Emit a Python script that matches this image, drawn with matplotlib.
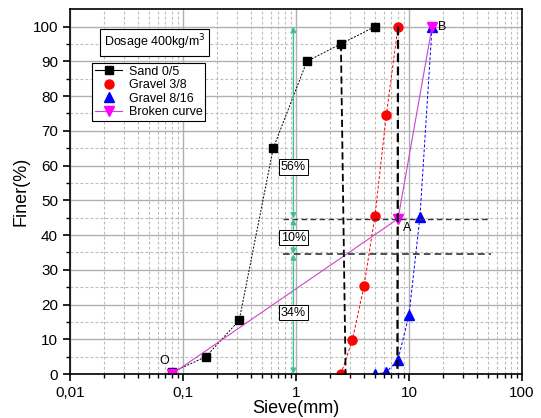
import numpy as np
import matplotlib
matplotlib.use('Agg')
import matplotlib.pyplot as plt
from matplotlib.ticker import FixedLocator, LogLocator, NullFormatter
from matplotlib.lines import Line2D

plt.rcParams['font.family'] = ['Liberation Sans', 'DejaVu Sans']

# Sieve sizes (mm) and passing (%)
sand_x = [0.08, 0.16, 0.315, 0.63, 1.25, 2.5, 5]
sand_y = [0.5, 5, 15.5, 65, 90, 95, 100]

g38_x = [2.5, 3.15, 4, 5, 6.3, 8]
g38_y = [0, 9.7, 25.3, 45.5, 74.5, 100]

g816_x = [5, 6.3, 8, 10, 12.5, 16]
g816_y = [0, 0.5, 4.2, 17, 45.3, 100]

broken_x = [0.08, 8, 16]
broken_y = [0, 44.7, 100]

# reading lines: proportions split
levels = [0, 34.5, 44.7, 100]
pct_labels = ['34%', '10%', '56%']
pct_label_y = [17.7, 39.3, 59.7]

fig = plt.figure(figsize=(5.41, 4.18), dpi=100)
ax = fig.add_axes([0.129, 0.105, 0.836, 0.873])

ax.plot(sand_x, sand_y, color='black', ls=(0, (2, 1.5)), lw=0.7,
        marker='s', ms=5.5)
ax.plot(g38_x, g38_y, color='red', ls=(0, (3, 2)), lw=0.7,
        marker='o', ms=6.5)
ax.plot(g816_x, g816_y, color='blue', ls=(0, (3, 2)), lw=0.7,
        marker='^', ms=6.5)
ax.plot(broken_x, broken_y, color='#CC44CC', ls='-', lw=0.8,
        marker='v', ms=6.5, markerfacecolor='magenta', markeredgecolor='magenta')

# thick dashed verticals
ax.plot([2.5, 2.75], [95, 0], color='black', ls=(0, (4, 2)), lw=1.3)
ax.plot([8, 7.9], [100, 0], color='black', ls=(0, (4, 2)), lw=1.6)

# horizontal reading lines
ax.plot([0.77, 51], [levels[2], levels[2]], color='#333333', ls=(0, (4, 2.5)), lw=1.0)
ax.plot([0.77, 53], [levels[1], levels[1]], color='#333333', ls=(0, (4, 2.5)), lw=1.2)

# green arrows
arrow_x = 0.95
for i in range(3):
    ax.annotate('', xy=(arrow_x, levels[i + 1]), xytext=(arrow_x, levels[i]),
                arrowprops=dict(arrowstyle='<|-|>', color='#3DBE9C', lw=1.0,
                                shrinkA=0, shrinkB=0, mutation_scale=8))
    ax.text(arrow_x, pct_label_y[i], pct_labels[i], ha='center', va='center',
            fontsize=9, bbox=dict(boxstyle='square,pad=0.15', fc='white', ec='black', lw=0.7))

ax.text(0.069, 3.8, 'O', fontsize=9, ha='center', va='center')
ax.text(8.8, 42, 'A', fontsize=9, ha='left', va='center')
ax.text(18, 100, 'B', fontsize=9, ha='left', va='center')

ax.text(0.02, 95.4, 'Dosage 400kg/m$^3$', fontsize=9, ha='left', va='center',
        bbox=dict(boxstyle='square,pad=0.3', fc='white', ec='black', lw=0.8))

ax.set_xscale('log')
ax.set_xlim(0.01, 100)
ax.set_ylim(0, 105)
ax.xaxis.set_major_locator(FixedLocator([0.01, 0.1, 1, 10, 100]))
ax.set_xticklabels(['0,01', '0,1', '1', '10', '100'])
ax.xaxis.set_minor_locator(LogLocator(base=10, subs=np.arange(2, 10)))
ax.xaxis.set_minor_formatter(NullFormatter())
ax.set_yticks(np.arange(0, 101, 10))
ax.set_yticks(np.arange(5, 101, 10), minor=True)

ax.grid(which='major', color='#b0b0b0', lw=1.0, ls='-')
ax.grid(which='minor', color='#bbbbbb', lw=0.8, ls=(0, (2.5, 2)))
ax.set_axisbelow(True)

ax.tick_params(which='major', direction='out', length=5, width=1.2, labelsize=11)
ax.tick_params(which='minor', direction='out', length=3, width=1.0)
for s in ax.spines.values():
    s.set_linewidth(1.2)

ax.set_xlabel('Sieve(mm)', fontsize=13, labelpad=0)
ax.set_ylabel('Finer(%)', fontsize=13, labelpad=2)

handles = [
    Line2D([], [], color='black', lw=0.8, marker='s', ms=5.5),
    Line2D([], [], color='red', lw=0, marker='o', ms=6.5),
    Line2D([], [], color='blue', lw=0, marker='^', ms=6.5),
    Line2D([], [], color='#CC44CC', lw=0.8, marker='v', ms=6.5, markerfacecolor='magenta',
           markeredgecolor='magenta'),
]
names = ['Sand 0/5', 'Gravel 3/8', 'Gravel 8/16', 'Broken curve']
leg = ax.legend(handles, names, loc='upper left', bbox_to_anchor=(0.05, 0.852), fontsize=9,
                frameon=True, fancybox=False, edgecolor='black', framealpha=1,
                handlelength=2.2, borderpad=0.2, labelspacing=0.12, handletextpad=0.5,
                borderaxespad=0)
leg.get_frame().set_linewidth(0.8)

fig.savefig('out.png', dpi=100)
